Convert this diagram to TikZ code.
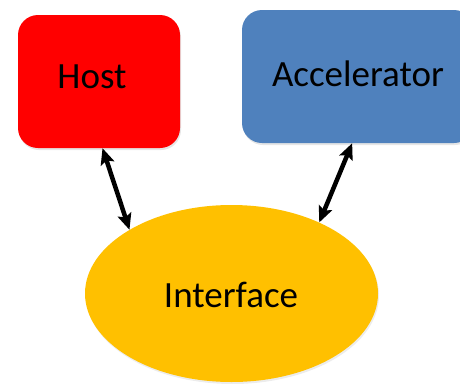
\documentclass[tikz,border=0pt]{standalone}
\usepackage{fontspec}
\setmainfont{Carlito}
\usetikzlibrary{shapes.geometric,shadows,arrows.meta}
\definecolor{hostred}{HTML}{FF0000}
\definecolor{accblue}{HTML}{4F81BD}
\definecolor{ifaceorange}{HTML}{FFC000}
\tikzset{
  boxstyle/.style={rectangle, rounded corners=20pt, inner sep=0pt, draw=none,
    drop shadow={opacity=0.2, shadow xshift=1pt, shadow yshift=-2pt}},
  lbl/.style={font=\fontsize{37}{44}\selectfont, text=black},
  conn/.style={draw=black, line width=4.5pt, {Stealth[length=16pt,width=14pt,inset=3pt]}-{Stealth[length=16pt,width=14pt,inset=3pt]}}
}
\begin{document}
\begin{tikzpicture}[x=1pt,y=-1pt]
\useasboundingbox (0,0) rectangle (460,383);
\node[boxstyle, fill=hostred, minimum width=162pt, minimum height=133pt] (host) at (99,81.5) {};
\node[lbl] (hostlbl) at (92,77) {Host};
\node[boxstyle, fill=accblue, minimum width=232pt, minimum height=133pt] (acc) at (358,76.5) {};
\node[lbl] (acclbl) at (358,74) {Accelerator};
\node[ellipse, fill=ifaceorange, draw=none, minimum width=293pt, minimum height=177pt, inner sep=0pt,
  drop shadow={opacity=0.15, shadow xshift=1pt, shadow yshift=-2pt}] (iface) at (231.5,293.5) {};
\node[lbl] (ifacelbl) at (231,295) {Interface};
\draw[conn] (iface.148) -- (host.-87);
\draw[conn] (iface.39.5) -- (acc.-95);
\end{tikzpicture}
\end{document}
